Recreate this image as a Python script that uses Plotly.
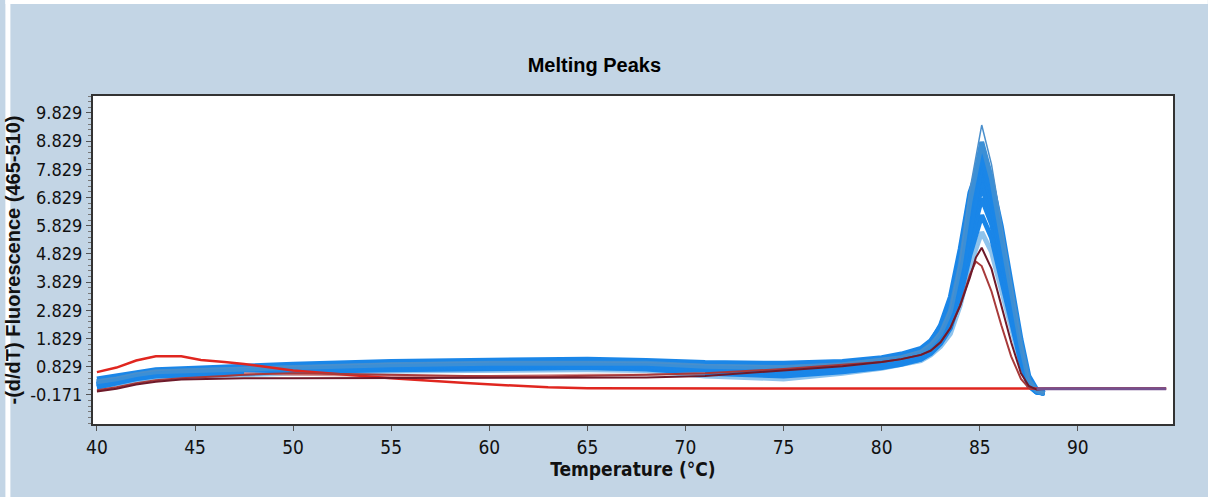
import plotly.graph_objects as go

# ---------------- data ----------------
T_BLUE = [40, 41, 42, 43, 45, 47, 50, 55, 60, 65, 68, 71, 75, 78, 80, 81, 82, 82.5,
          83, 83.5, 84, 84.5, 85.1, 85.6, 86.1, 86.6, 87.1, 87.5, 87.9, 88.3]

BLUE_1 = [0.35, 0.45, 0.6, 0.7, 0.75, 0.8, 0.85, 0.95, 1.0, 1.0, 0.98, 0.9, 0.85, 0.95, 1.1, 1.2, 1.4, 1.65, 2.1, 2.9, 4.6, 7.1, 9.4, 8.0, 5.9, 3.8, 1.7, 0.4, 0.0, -0.1]
BLUE_2 = [0.3, 0.4, 0.55, 0.65, 0.7, 0.75, 0.8, 0.9, 0.95, 0.95, 0.95, 0.85, 0.8, 0.9, 1.05, 1.15, 1.35, 1.6, 2.0, 2.8, 4.4, 6.7, 8.8, 7.5, 5.5, 3.5, 1.6, 0.35, -0.02, -0.12]
BLUE_3 = [0.25, 0.35, 0.5, 0.6, 0.65, 0.7, 0.75, 0.85, 0.9, 0.92, 0.9, 0.8, 0.75, 0.85, 1.0, 1.1, 1.3, 1.55, 2.0, 2.7, 4.3, 6.5, 8.6, 7.3, 5.4, 3.4, 1.5, 0.3, -0.03, -0.12]
BLUE_4 = [0.2, 0.3, 0.45, 0.55, 0.6, 0.65, 0.7, 0.8, 0.85, 0.88, 0.85, 0.75, 0.7, 0.8, 0.95, 1.05, 1.25, 1.5, 1.9, 2.6, 4.1, 6.3, 8.4, 7.2, 5.3, 3.3, 1.5, 0.3, -0.05, -0.1]
BLUE_5 = [0.3, 0.4, 0.5, 0.6, 0.65, 0.7, 0.8, 0.88, 0.92, 0.9, 0.88, 0.78, 0.72, 0.85, 1.0, 1.12, 1.35, 1.7, 2.3, 3.3, 5.0, 7.0, 8.2, 6.6, 4.6, 2.7, 1.0, 0.15, -0.08, -0.1]
BLUE_6 = [0.15, 0.3, 0.45, 0.55, 0.6, 0.65, 0.72, 0.8, 0.85, 0.85, 0.82, 0.7, 0.65, 0.78, 0.92, 1.02, 1.2, 1.4, 1.75, 2.3, 3.6, 5.7, 8.0, 7.4, 5.8, 3.8, 1.8, 0.5, 0.02, -0.1]
BLUE_7 = [0.2, 0.35, 0.5, 0.6, 0.65, 0.68, 0.75, 0.82, 0.88, 0.88, 0.85, 0.72, 0.62, 0.75, 0.9, 1.0, 1.2, 1.45, 1.85, 2.5, 3.9, 5.9, 7.8, 6.7, 4.9, 3.1, 1.4, 0.3, -0.05, -0.12]
BLUE_8 = [0.15, 0.3, 0.45, 0.55, 0.6, 0.65, 0.7, 0.78, 0.82, 0.82, 0.8, 0.68, 0.58, 0.7, 0.85, 0.98, 1.15, 1.4, 1.8, 2.4, 3.8, 5.7, 7.5, 6.4, 4.7, 2.9, 1.3, 0.28, -0.05, -0.12]
BLUE_9 = [0.25, 0.38, 0.52, 0.62, 0.68, 0.72, 0.78, 0.85, 0.9, 0.9, 0.88, 0.78, 0.7, 0.8, 0.95, 1.05, 1.25, 1.5, 1.85, 2.4, 3.7, 5.5, 7.2, 6.2, 4.5, 2.8, 1.2, 0.25, -0.05, -0.1]
BLUE_10 = [0.1, 0.25, 0.4, 0.5, 0.55, 0.6, 0.65, 0.72, 0.78, 0.8, 0.75, 0.6, 0.5, 0.65, 0.8, 0.92, 1.1, 1.35, 1.7, 2.3, 3.5, 5.2, 6.8, 5.9, 4.3, 2.7, 1.2, 0.25, -0.05, -0.1]
BLUE_11 = [0.2, 0.3, 0.45, 0.55, 0.6, 0.62, 0.68, 0.75, 0.8, 0.8, 0.78, 0.65, 0.55, 0.68, 0.82, 0.95, 1.1, 1.3, 1.65, 2.2, 3.3, 4.8, 6.2, 5.4, 3.9, 2.4, 1.0, 0.2, -0.05, -0.1]
BLUE_12 = [0.1, 0.2, 0.35, 0.45, 0.5, 0.55, 0.6, 0.68, 0.72, 0.72, 0.7, 0.5, 0.4, 0.6, 0.78, 0.9, 1.05, 1.25, 1.55, 2.0, 3.0, 4.4, 5.6, 4.9, 3.6, 2.2, 0.9, 0.15, -0.05, -0.1]
BLUE_13 = [0.4, 0.5, 0.62, 0.72, 0.78, 0.85, 0.92, 1.02, 1.08, 1.1, 1.05, 0.98, 0.95, 1.02, 1.15, 1.28, 1.48, 1.75, 2.25, 3.1, 4.8, 6.9, 8.3, 7.0, 5.0, 3.0, 1.2, 0.25, -0.05, -0.1]

T_RED = [40, 41, 42, 43, 44.3, 45.3, 46.5, 47.5, 50, 55, 58.8, 63, 65, 68, 71, 75, 78, 80,
         81, 82, 82.5, 83, 83.5, 84, 84.5, 84.8, 85.1, 85.6, 86.1, 86.6, 87.1, 87.5, 87.9,
         88.3, 90, 94.5]
RED_FLAT = [0.64, 0.8, 1.05, 1.2, 1.2, 1.07, 1.0, 0.93, 0.7, 0.42, 0.25, 0.1, 0.07, 0.06, 0.06, 0.06, 0.06, 0.06,
            0.06, 0.06, 0.06, 0.06, 0.06, 0.06, 0.06, 0.06, 0.06, 0.06, 0.06, 0.06, 0.06, 0.06, 0.06,
            0.06, 0.06, 0.06]
RED_PEAK_A = [-0.05, 0.05, 0.2, 0.3, 0.38, 0.4, 0.42, 0.42, 0.42, 0.43, 0.45, 0.45, 0.45, 0.45, 0.5, 0.7, 0.85, 1.0,
              1.1, 1.25, 1.4, 1.7, 2.2, 3.0, 4.0, 4.7, 5.05, 4.3, 3.0, 1.7, 0.6, 0.15, 0.02,
              0.04, 0.05, 0.05]
RED_PEAK_B = [0.0, 0.1, 0.25, 0.35, 0.42, 0.45, 0.5, 0.55, 0.6, 0.55, 0.5, 0.48, 0.5, 0.55, 0.6, 0.75, 0.9, 1.0,
              1.1, 1.25, 1.4, 1.7, 2.2, 3.0, 4.1, 4.56, 4.4, 3.5, 2.3, 1.2, 0.4, 0.08, 0.03,
              0.05, 0.05, 0.05]

T_PINK = [47.5, 50, 55, 60, 65, 68, 71]
PINK = [0.6, 0.55, 0.5, 0.5, 0.55, 0.55, 0.6]

T_PURPLE = [87.9, 89.0, 91.5, 92.5, 94.5]
PURPLE = [0.05, 0.05, 0.05, 0.05, 0.05]

Y_TICKS = [-0.171, 0.829, 1.829, 2.829, 3.829, 4.829, 5.829, 6.829, 7.829, 8.829, 9.829]
Y_TICK_TEXT = ["-0.171", "0.829", "1.829", "2.829", "3.829", "4.829", "5.829", "6.829",
               "7.829", "8.829", "9.829"]
X_TICKS = [40, 45, 50, 55, 60, 65, 70, 75, 80, 85, 90]

# ---------------- figure ----------------
fig = go.Figure()

blue_series = [
    (BLUE_12, "#8fc3ec"), (BLUE_11, "#1a86e8"), (BLUE_10, "#1a86e8"), (BLUE_9, "#1a86e8"),
    (BLUE_8, "#1a86e8"), (BLUE_7, "#1a86e8"), (BLUE_6, "#1a86e8"), (BLUE_5, "#1a86e8"),
    (BLUE_4, "#1a86e8"), (BLUE_3, "#1a86e8"), (BLUE_13, "#1a86e8"), (BLUE_2, "#3b8fd6"),
]
for ys, col in blue_series:
    fig.add_trace(go.Scatter(x=T_BLUE, y=ys, mode="lines",
                             line=dict(color=col, width=5), showlegend=False))
fig.add_trace(go.Scatter(x=T_BLUE, y=BLUE_1, mode="lines",
                         line=dict(color="#4a8fcc", width=1.5), showlegend=False))

fig.add_trace(go.Scatter(x=T_PINK, y=PINK, mode="lines",
                         line=dict(color="#d89090", width=2), showlegend=False))
fig.add_trace(go.Scatter(x=T_RED, y=RED_FLAT, mode="lines",
                         line=dict(color="#e0261f", width=2.5), showlegend=False))
fig.add_trace(go.Scatter(x=T_RED, y=RED_PEAK_B, mode="lines",
                         line=dict(color="#a83a3a", width=2), showlegend=False))
fig.add_trace(go.Scatter(x=T_RED, y=RED_PEAK_A, mode="lines",
                         line=dict(color="#6e1a2a", width=2), showlegend=False))
fig.add_trace(go.Scatter(x=T_PURPLE, y=PURPLE, mode="lines",
                         line=dict(color="#74508e", width=3), showlegend=False))

W, H = 1208, 497
ML, MR, MT, MB = 88, 35, 96, 73
PW = W - ML - MR
PH = H - MT - MB
BG = "#c3d5e5"
NARROW = "DejaVu Sans Condensed, Liberation Sans Narrow, Arial Narrow, sans-serif"

fig.update_layout(
    width=W, height=H,
    margin=dict(l=ML, r=MR, t=MT, b=MB),
    paper_bgcolor=BG,
    plot_bgcolor="white",
    showlegend=False,
    title=dict(text="<b>Melting Peaks</b>", x=0.492, xref="container", xanchor="center",
               y=1 - 65 / H, yref="container", yanchor="middle",
               font=dict(family="Liberation Sans, Arial, sans-serif", size=20, color="#000")),
    xaxis=dict(range=[39.8, 94.85], tickmode="array", tickvals=X_TICKS,
               ticks="outside", ticklen=5, tickcolor="#555",
               showgrid=False, zeroline=False,
               showline=True, mirror=True, linecolor="#333", linewidth=2,
               tickfont=dict(family=NARROW, size=19, color="#111"),
               title=dict(text="<b>Temperature (°C)</b>", standoff=6,
                          font=dict(family=NARROW, size=19, color="#111"))),
    yaxis=dict(range=[-1.2, 10.43], tickmode="array", tickvals=Y_TICKS, ticktext=Y_TICK_TEXT,
               ticks="outside", ticklen=5, tickcolor="#555",
               minor=dict(tick0=-0.171, dtick=0.2, ticks="outside", ticklen=3, tickcolor="#777"),
               showgrid=False, zeroline=False,
               showline=True, mirror=True, linecolor="#333", linewidth=2,
               tickfont=dict(family=NARROW, size=18, color="#111"),
               title=dict(text="<b>-(d/dT) Fluorescence (465-510)</b>", standoff=4,
                          font=dict(family="Liberation Sans, Arial, sans-serif", size=20, color="#111"))),
    shapes=[
        # thin white strips along the top and left border of the image
        dict(type="rect", xref="paper", yref="paper",
             x0=-ML / PW, x1=(W - ML) / PW, y0=(H - MB - 4) / PH, y1=(H - MB) / PH,
             fillcolor="white", line=dict(width=0), layer="below"),
        dict(type="rect", xref="paper", yref="paper",
             x0=-ML / PW, x1=(5 - ML) / PW, y0=-MB / PH, y1=(H - MB) / PH,
             fillcolor="white", line=dict(width=0), layer="below"),
    ],
)

fig.write_html("out.html")
